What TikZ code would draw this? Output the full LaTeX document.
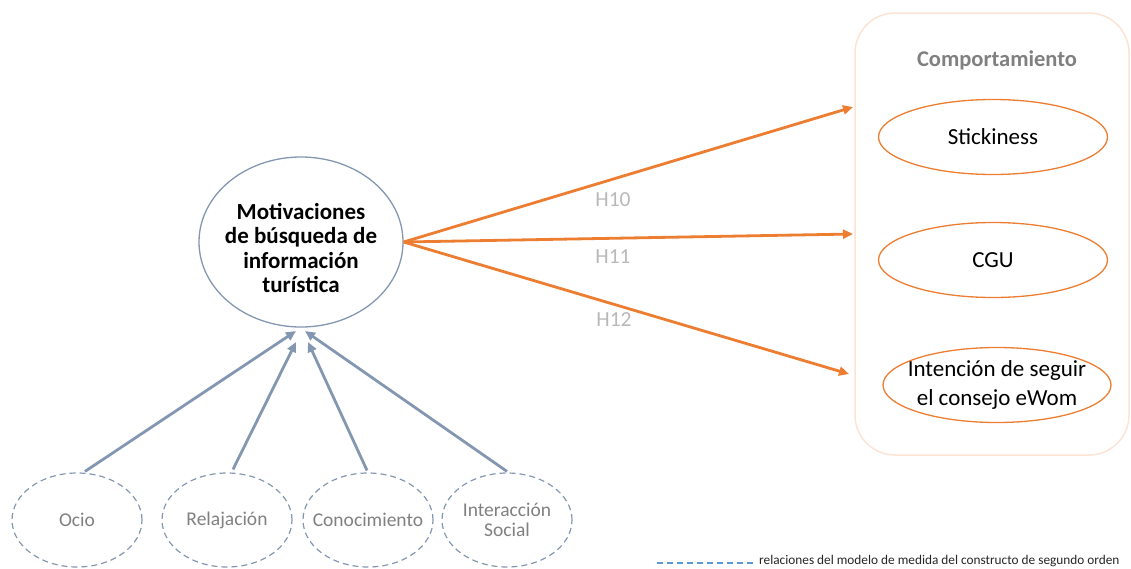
\documentclass[tikz,border=0pt]{standalone}
\usepackage{fontspec}
\setmainfont{Carlito}
\usetikzlibrary{shapes.geometric,arrows.meta}
\definecolor{orangeA}{RGB}{237,125,49}
\definecolor{peach}{RGB}{251,228,212}
\definecolor{slate}{RGB}{132,151,176}
\definecolor{greyT}{RGB}{128,128,128}
\definecolor{lightT}{RGB}{185,185,185}
\definecolor{legblue}{RGB}{91,155,213}
\tikzset{
  x=1pt, y=-1pt,
  construct/.style={ellipse, draw=slate, line width=1.2pt, dash pattern=on 6pt off 4pt,
    minimum width=130pt, minimum height=94pt, inner sep=-30pt, text=greyT,
    font=\fontsize{19.5}{20.5}\selectfont, align=center},
  mainc/.style={ellipse, draw=slate, line width=1.3pt, minimum width=204pt, minimum height=170pt,
    inner sep=0pt},
  maintext/.style={align=center, font=\bfseries\fontsize{23}{24.5}\selectfont},
  outc/.style={ellipse, draw=orangeA, line width=1.3pt, minimum width=229pt, minimum height=75pt,
    inner sep=-30pt, align=center, font=\fontsize{23}{29}\selectfont},
  measure/.style={draw=slate, line width=2.8pt, -{Triangle[length=10pt,width=9pt]}},
  hyp/.style={draw=orangeA, line width=2.8pt, -{Triangle[length=10pt,width=9pt]}},
  hlabel/.style={text=lightT, font=\fontsize{21.5}{24}\selectfont},
}
\begin{document}
\begin{tikzpicture}
\useasboundingbox (0,0) rectangle (1131,568);

% group frame on the right
\draw[draw=peach, line width=1.5pt, rounded corners=40pt] (855,13) rectangle (1129,455);
\node[text=greyT, font=\bfseries\fontsize{22.5}{24}\selectfont] (grp) at (997,60) {Comportamiento};

% constructs
\node[mainc, label={[maintext, yshift=-6pt]center:{Motivaciones\\de búsqueda de\\información\\turística}}] (mot) at (301,242) {};
\node[construct] (ocio) at (77,520) {Ocio};
\node[construct] (rel) at (227,520) {Relajación};
\node[construct] (con) at (368,520) {Conocimiento};
\node[construct] (int) at (507,520) {Interacción\\Social};

\node[outc] (stk) at (993,137) {Stickiness};
\node[outc] (cgu) at (993,260) {CGU};
\node[outc, minimum width=228pt] (iec) at (997,385) {Intención de seguir\\el consejo eWom};

% arrow tips
\coordinate (t1) at (296,331);
\coordinate (t2) at (296,342);
\coordinate (t3) at (308,342);
\coordinate (t4) at (305,331);
\coordinate (h10) at (853,107);
\coordinate (h11) at (853,234);
\coordinate (h12) at (849,374);

% measurement relations
\draw[measure] (ocio.north) ++(8,-1) coordinate (o1) (o1) -- (t1);
\draw[measure] (rel.north) ++(6,-3) coordinate (r1) (r1) -- (t2);
\draw[measure] (con.north) ++(-1,-2) coordinate (c1) (c1) -- (t3);
\draw[measure] (int.north) ++(0,-1) coordinate (i1) (i1) -- (t4);

% structural hypotheses
\draw[hyp] (mot.east) -- (h10);
\draw[hyp] (mot.east) -- (h11);
\draw[hyp] (mot.east) -- (h12);
\node[hlabel] (l10) at (613,200) {H10};
\node[hlabel] (l11) at (613,257) {H11};
\node[hlabel] (l12) at (614,320) {H12};

% legend
\coordinate (la) at (657,563);
\coordinate (lb) at (754,563);
\draw[legblue, line width=1.2pt, dash pattern=on 6pt off 4pt] (la) -- (lb);
\node[anchor=west, inner sep=0pt, font=\fontsize{13.3}{15}\selectfont, text=black!85] (leg) at (759,561.5) {relaciones del modelo de medida del constructo de segundo orden};
\end{tikzpicture}
\end{document}
